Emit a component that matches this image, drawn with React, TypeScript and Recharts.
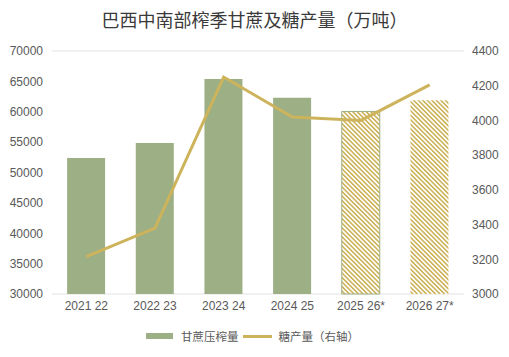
import React from 'react';
import { ComposedChart, Bar, Line, XAxis, YAxis, CartesianGrid, Cell } from 'recharts';

const seasons = ['2021 22', '2022 23', '2023 24', '2024 25', '2025 26*', '2026 27*'];
const caneCrush = [52400, 54850, 65400, 62300, 60050, 61900];
const sugarOutput = [3215, 3380, 4250, 4020, 4000, 4205];
const leftTicks = [30000, 35000, 40000, 45000, 50000, 55000, 60000, 65000, 70000];
const rightTicks = [3000, 3200, 3400, 3600, 3800, 4000, 4200, 4400];

const GREEN = '#9daf84';
const GOLD = '#cdb45c';
const TEXT = '#595959';

const chartData = seasons.map((s, i) => ({
  season: s,
  cane: caneCrush[i],
  sugar: sugarOutput[i],
}));

const tickStyle = { fontSize: 12, fill: TEXT, fontFamily: 'Liberation Sans, Arial, sans-serif' };

const App: React.FC = () => {
  return (
    <div style={{ position: 'absolute', left: 0, top: 0, width: 509, height: 357, background: '#fff' }}>
      <div
        style={{
          position: 'absolute',
          top: 7,
          left: 0,
          width: 509,
          textAlign: 'center',
          fontSize: 18,
          color: '#3a3a3a',
          fontFamily: '"Noto Sans CJK SC", sans-serif',
          lineHeight: '24px',
        }}
      >
        巴西中南部榨季甘蔗及糖产量（万吨）
      </div>

      <ComposedChart
        width={509}
        height={357}
        data={chartData}
        margin={{ top: 51, right: 0, bottom: 33, left: 0 }}
        barCategoryGap="22%"
      >
        <defs>
          <pattern id="hatch" patternUnits="userSpaceOnUse" width="3.2" height="3.2" patternTransform="rotate(-45)">
            <rect x="0" y="0" width="3.2" height="3.2" fill="#ffffff" />
            <rect x="0" y="0" width="1.6" height="3.2" fill={GOLD} />
          </pattern>
        </defs>
        <CartesianGrid vertical={false} stroke="#e2e2e2" />
        <XAxis
          dataKey="season"
          height={30}
          axisLine={false}
          tickLine={false}
          tick={tickStyle}
          tickMargin={1}
          interval={0}
        />
        <YAxis
          yAxisId="left"
          orientation="left"
          width={52}
          domain={[30000, 70000]}
          ticks={leftTicks}
          axisLine={false}
          tickLine={false}
          tick={tickStyle}
          tickMargin={3}
        />
        <YAxis
          yAxisId="right"
          orientation="right"
          width={45}
          domain={[3000, 4400]}
          ticks={rightTicks}
          axisLine={false}
          tickLine={false}
          tick={tickStyle}
        />
        <Bar yAxisId="left" dataKey="cane" isAnimationActive={false}>
          {chartData.map((d, i) => (
            <Cell
              key={d.season}
              fill={i < 4 ? GREEN : 'url(#hatch)'}
              stroke={i === 4 ? GREEN : 'none'}
              strokeWidth={i === 4 ? 1 : 0}
            />
          ))}
        </Bar>
        <Line
          yAxisId="right"
          type="linear"
          dataKey="sugar"
          stroke={GOLD}
          strokeWidth={3}
          dot={false}
          isAnimationActive={false}
        />
      </ComposedChart>

      {/* legend */}
      <div
        style={{
          position: 'absolute',
          top: 327,
          left: 146,
          display: 'flex',
          alignItems: 'center',
          fontSize: 11.5,
          color: TEXT,
          fontFamily: '"Noto Sans CJK SC", sans-serif',
          lineHeight: '18px',
        }}
      >
        <span style={{ display: 'inline-block', width: 27, height: 6, background: GREEN, marginRight: 8 }} />
        <span>甘蔗压榨量</span>
        <span style={{ display: 'inline-block', width: 29, height: 3, background: GOLD, marginLeft: 4, marginRight: 7 }} />
        <span>糖产量（右轴）</span>
      </div>
    </div>
  );
};

export default App;
